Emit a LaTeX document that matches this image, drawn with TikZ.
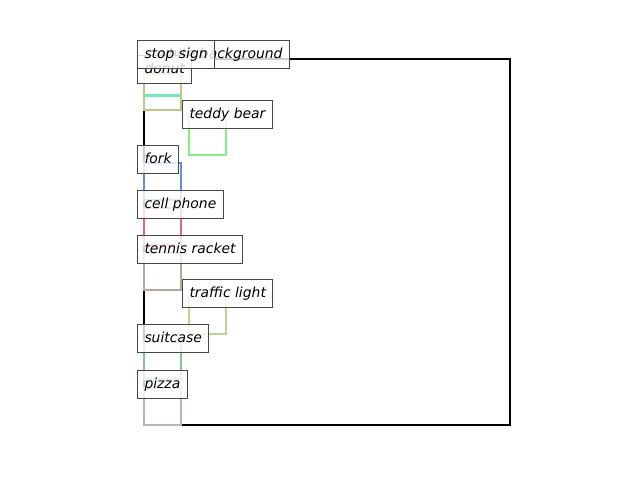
\documentclass[tikz,border=0pt]{standalone}
\usepackage{fontspec}
\setmainfont{DejaVu Sans}
\begin{document}
\begin{tikzpicture}[x=1pt,y=-1pt,
  objbox/.style={line width=2.7pt},
  lbl/.style={draw=black!72, line width=1pt, fill=white, fill opacity=0.8, text opacity=1,
    anchor=base west, inner xsep=7pt, inner ysep=6.5pt, text height=11.5pt, text depth=3.5pt,
    font=\fontsize{13.9}{16}\selectfont\itshape}]
\definecolor{cStop}{HTML}{70E8C0}
\definecolor{cDonut}{HTML}{C0C888}
\definecolor{cTeddy}{HTML}{80F080}
\definecolor{cFork}{HTML}{6090E0}
\definecolor{cPhone}{HTML}{E06090}
\definecolor{cTennis}{HTML}{B8A898}
\definecolor{cTraffic}{HTML}{B8D890}
\definecolor{cSuit}{HTML}{80C890}
\definecolor{cPizza}{HTML}{B8B0C8}
\fill[white] (0,0) rectangle (640,480);
\useasboundingbox (0,0) rectangle (640,480);
% object boxes
\draw[objbox,black] (144,59) rectangle (510,425);
\draw[objbox,cStop] (144,59) rectangle (181,95.5);
\draw[objbox,cDonut] (144,73.5) rectangle (181,110);
\draw[objbox,cTeddy] (189,118) rectangle (226,155);
\draw[objbox,cFork] (144,163) rectangle (181,200);
\draw[objbox,cPhone] (144,208) rectangle (181,245);
\draw[objbox,cTennis] (144,253) rectangle (181,290);
\draw[objbox,cTraffic] (189,297) rectangle (226,334);
\draw[objbox,cSuit] (144,342) rectangle (181,379);
\draw[objbox,cPizza] (144,388) rectangle (181,425);
% labels
\node[lbl, text width=138pt, align=right] (lbg) at (137,58) {white background};
\node[lbl] (ldonut) at (137,73) {donut};
\node[lbl] (lstop) at (137,58) {stop sign};
\node[lbl] (lteddy) at (182,118) {teddy bear};
\node[lbl] (lfork) at (137,163) {fork};
\node[lbl] (lphone) at (137,208) {cell phone};
\node[lbl] (ltennis) at (137,253) {tennis racket};
\node[lbl] (ltraffic) at (182,297) {traffic light};
\node[lbl] (lsuit) at (137,342) {suitcase};
\node[lbl] (lpizza) at (137,388) {pizza};
\end{tikzpicture}
\end{document}
